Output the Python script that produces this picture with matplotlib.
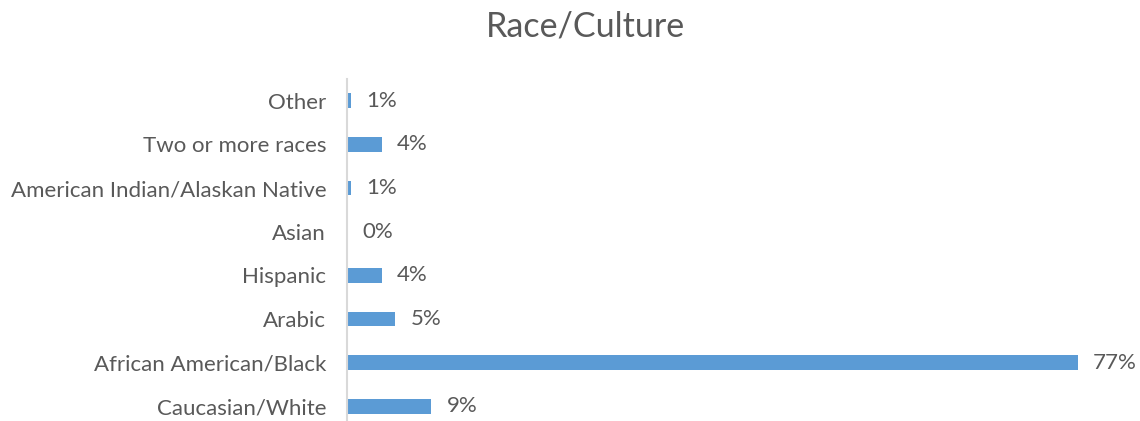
import matplotlib
matplotlib.use("Agg")
import matplotlib.pyplot as plt

categories = ["Caucasian/White", "African American/Black", "Arabic", "Hispanic",
              "Asian", "American Indian/Alaskan Native", "Two or more races", "Other"]
values = [8.9, 77.0, 5.1, 3.7, 0.0, 0.4, 3.7, 0.4]
value_labels = ["9%", "77%", "5%", "4%", "0%", "1%", "4%", "1%"]
title = "Race/Culture"

TEXT = "#595959"
BAR = "#5B9BD5"
plt.rcParams['font.family'] = ['Lato', 'DejaVu Sans']

W, H = 1140, 421
fig = plt.figure(figsize=(W / 100, H / 100), dpi=100)
left, right, top, bottom = 347, 1078, 79, 428
ax = fig.add_axes([left / W, (H - bottom) / H, (right - left) / W, (bottom - top) / H])

y = list(range(len(categories)))
ax.barh(y, values, height=0.34, color=BAR)
ax.set_xlim(0, 77.0)
ax.set_ylim(-0.5, len(categories) - 0.5)
ax.set_yticks(y)
ax.set_yticklabels(categories, fontsize=16, color=TEXT)
ax.tick_params(axis='y', length=0, pad=15)
ax.set_xticks([])
for s in ["top", "right", "bottom"]:
    ax.spines[s].set_visible(False)
ax.spines["left"].set_color("#D9D9D9")
ax.spines["left"].set_linewidth(1.5)

for yi, v, lab in zip(y, values, value_labels):
    ax.annotate(lab, (v, yi), xytext=(15, 0), textcoords="offset pixels",
                ha="left", va="center", fontsize=16, color=TEXT, annotation_clip=False)

fig.text(585 / W, 1 - 26 / H, title, ha="center", va="center", fontsize=24.5, color=TEXT)

fig.savefig("out.png", dpi=100)
